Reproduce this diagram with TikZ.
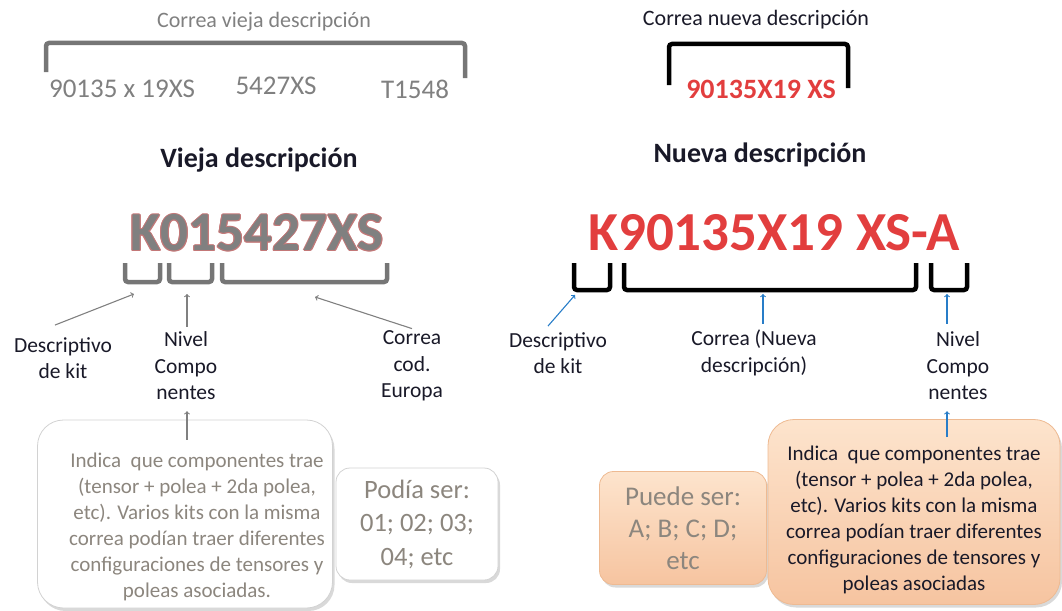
\documentclass[tikz,border=0pt]{standalone}
\usepackage{fontspec}
\setmainfont{Carlito}
\usetikzlibrary{shadows}

\definecolor{grisCod}{RGB}{128,128,128}
\definecolor{grisLlave}{RGB}{118,118,118}
\definecolor{grisCaja}{RGB}{140,134,126}
\definecolor{bordeRojo}{RGB}{195,120,120}
\definecolor{rojoCod}{RGB}{226,62,62}
\definecolor{azulFlecha}{RGB}{40,125,200}
\definecolor{oscuro}{RGB}{25,25,40}
\definecolor{naranjaSup}{RGB}{253,228,205}
\definecolor{naranjaInf}{RGB}{246,196,160}

\tikzset{
  llave/.style={line width=4.5pt, rounded corners=3pt},
  etiqueta/.style={align=center, text=oscuro, inner sep=0pt, font=\fontsize{21.5}{26.5}\selectfont},
  codGris/.style={inner sep=0pt, text=grisCod, font=\fontsize{27}{27}\selectfont},
  flechaGris/.style={->, draw=gray, line width=1.1pt},
  flechaAzul/.style={->, draw=azulFlecha, line width=1.1pt},
  codigo/.style={inner sep=0pt, font=\fontsize{55}{55}\selectfont\bfseries},
  titulo/.style={inner sep=0pt, text=oscuro, font=\fontsize{28}{28}\selectfont\bfseries},
  cajaBlanca/.style={draw=gray!35, fill=white, rounded corners=26pt, line width=0.8pt,
    drop shadow={opacity=0.3, shadow xshift=2pt, shadow yshift=-3pt}},
  cajaNaranja/.style={draw=naranjaInf!85!brown, top color=naranjaSup, bottom color=naranjaInf,
    rounded corners=26pt, line width=0.8pt,
    drop shadow={opacity=0.3, shadow xshift=2pt, shadow yshift=-3pt}},
  textoCaja/.style={align=center, inner sep=0pt, font=\fontsize{21}{26}\selectfont},
  cajaChica/.style={rounded corners=14pt, align=center, text=grisCaja, font=\fontsize{26.5}{33.5}\selectfont}
}

\begin{document}
\begin{tikzpicture}[x=1pt,y=-1pt]
\useasboundingbox (0,0) rectangle (1062,610);

\node[inner sep=0pt, text=grisCod, font=\fontsize{22}{22}\selectfont] (correaVieja) at (264,22) {Correa vieja descripción};
\draw[llave, grisLlave] (46,72) -- (46,43) -- (465,43) -- (465,78);
\node[codGris] (codA) at (122,89) {90135 x 19XS};
\node[codGris] (codB) at (276,86) {5427XS};
\node[codGris] (codC) at (415,89) {T1548};

\node[inner sep=0pt, text=oscuro, font=\fontsize{22}{22}\selectfont] (correaNueva) at (756,20) {Correa nueva descripción};
\draw[llave, black] (669,85) -- (669,44) -- (848,44) -- (848,88);
\node[inner sep=0pt, text=rojoCod, font=\fontsize{28}{28}\selectfont\bfseries] (codNuevo) at (761,89) {90135X19 XS};

\node[titulo] (tituloViejo) at (259,160) {Vieja descripción};
\node[titulo] (tituloNuevo) at (760,155) {Nueva descripción};

\foreach \dx/\dy in {-1/0,1/0,0/-1,0/1,-0.7/-0.7,0.7/0.7,-0.7/0.7,0.7/-0.7}
  \node[codigo, text=bordeRojo] at (257+\dx,233+\dy) {K015427XS};
\node[codigo, text=grisCod] (codViejo) at (257,233) {K015427XS};
\node[codigo, text=rojoCod] (codKit) at (774,233) {K90135X19 XS-A};

\draw[llave, grisLlave] (125,263) -- (125,282) -- (160,282) -- (160,263);
\draw[llave, grisLlave] (169,263) -- (169,282) -- (212,282) -- (212,263);
\draw[llave, grisLlave] (222,263) -- (222,282) -- (387,282) -- (387,263);
\coordinate (pKitV) at (134,294);
\coordinate (pNivelV) at (187,294);
\coordinate (pCorreaV) at (315,297);

\node[etiqueta] (descV) at (63,358) {Descriptivo\\de kit};
\node[etiqueta] (nivelV) at (186,366) {Nivel\\Compo\\nentes};
\node[etiqueta] (correaV) at (412,366) {Correa\\cod.\\Europa};
\draw[flechaGris] ([xshift=-8pt,yshift=12pt]descV.north) -- (pKitV);
\draw[flechaGris] ([yshift=5pt]nivelV.north -| pNivelV) -- (pNivelV);
\draw[flechaGris] ([yshift=2pt]correaV.north) -- (pCorreaV);

\draw[llave] (574,263) -- (574,290) -- (610,290) -- (610,263);
\draw[llave] (624,263) -- (624,290) -- (916,290) -- (916,263);
\draw[llave] (931,263) -- (931,290) -- (967,290) -- (967,263);
\coordinate (pKitN) at (575,295);
\coordinate (pCorreaN) at (763,294);
\coordinate (pNivelN) at (947,294);

\node[etiqueta] (descN) at (558,353) {Descriptivo\\de kit};
\node[etiqueta] (correaN) at (754,353) {Correa (Nueva\\descripción)};
\node[etiqueta] (nivelN) at (958,366) {Nivel\\Compo\\nentes};
\draw[flechaAzul] ([xshift=-10pt,yshift=6pt]descN.north) -- (pKitN);
\draw[flechaAzul] ([yshift=6pt]correaN.north -| pCorreaN) -- (pCorreaN);
\draw[flechaAzul] ([yshift=8pt]nivelN.north -| pNivelN) -- (pNivelN);

\node[cajaBlanca, minimum width=295pt, minimum height=188pt] (cajaV) at (185,514) {};
\node[textoCaja, text=grisCaja] (textoV) at (197,527) {Indica\ \ que componentes trae\\(tensor + polea + 2da polea,\\etc). Varios kits con la misma\\correa podían traer diferentes\\configuraciones de tensores y\\poleas asociadas.};
\draw[flechaGris] ([yshift=-20pt]cajaV.north -| pNivelV) -- ([yshift=-11pt]nivelV.south -| pNivelV);
\node[cajaBlanca, cajaChica, minimum width=162pt, minimum height=112pt] (podiaSer) at (417,524) {Podía ser:\\01; 02; 03;\\04; etc};

\node[cajaNaranja, cajaChica, minimum width=167pt, minimum height=113pt, font=\fontsize{27}{32}\selectfont] (puedeSer) at (683,528) {Puede ser:\\A; B; C; D;\\etc};
\node[cajaNaranja, minimum width=292pt, minimum height=185pt] (cajaN) at (914,512) {};
\node[textoCaja, text=oscuro] (textoN) at (914,520) {Indica\ \ que componentes trae\\(tensor + polea + 2da polea,\\etc). Varios kits con la misma\\correa podían traer diferentes\\configuraciones de tensores y\\poleas asociadas};
\draw[flechaAzul] ([yshift=-18pt]cajaN.north -| pNivelN) -- ([yshift=-11pt]nivelN.south -| pNivelN);
\end{tikzpicture}
\end{document}
